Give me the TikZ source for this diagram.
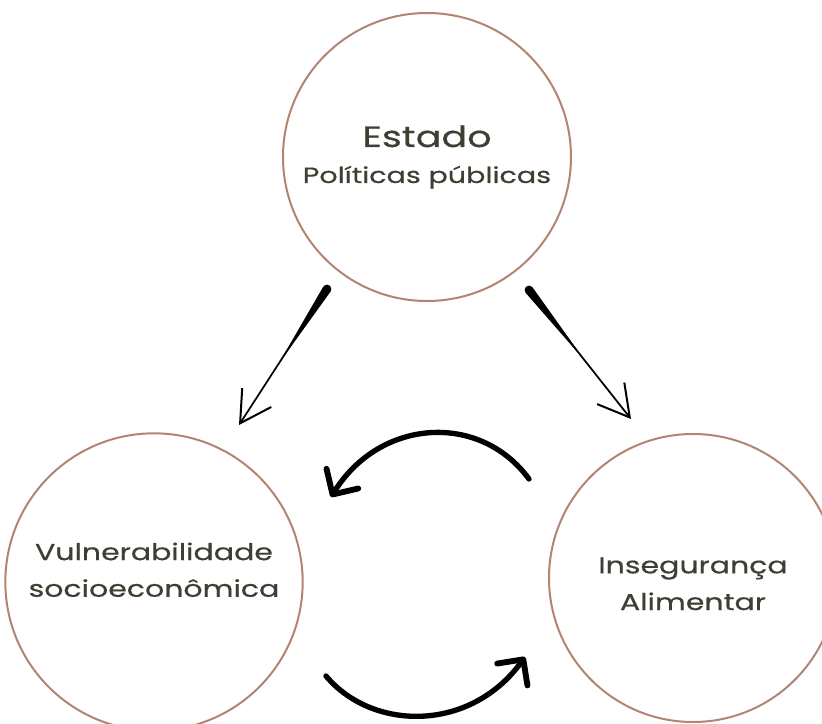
\documentclass[tikz,border=0pt]{standalone}
\usepackage{fontspec}
\setmainfont{Poppins}[FakeStretch=1.3,FakeBold=0.45]
\usepackage{xcolor}
\usetikzlibrary{arrows.meta,calc}
\definecolor{rosebrown}{RGB}{178,132,114}
\definecolor{olivetext}{RGB}{60,64,51}
\tikzset{
  bubble/.style={circle,draw=rosebrown,line width=1.5pt,text=olivetext,align=center,
    font=\fontsize{16.5}{27}\selectfont},
  lowbubble/.style={bubble,font=\fontsize{17.3}{27.5}\selectfont},
  thinarrow/.style={line width=1.3pt,-{Straight Barb[length=23pt,width=26pt,line width=1.5pt]}},
  thickarrow/.style={line width=4pt,line cap=round,
    -{Straight Barb[length=14pt,width=28pt,line width=4.4pt,round]}}
}
\begin{document}
\begin{tikzpicture}[x=0.75pt,y=-0.75pt]
\useasboundingbox (0,0) rectangle (822,724);
\node[bubble,minimum size=216pt] (estado) at (427,157)
  {{\fontsize{22}{27}\selectfont Estado}\\Políticas públicas};
\node[lowbubble,minimum size=223pt] (vuln) at (154,582)
  {Vulnerabilidade\\socioeconômica\\[-9pt]\mbox{}};
\node[lowbubble,minimum size=216pt] (inseg) at (693,578)
  {Insegurança\\Alimentar\\[-36pt]\mbox{}};

\coordinate (s1) at (327,289);
\coordinate (e1) at (239,425);
\coordinate (s2) at (529,290);
\coordinate (e2) at (631,419);
\coordinate (m1) at ($(s1)!0.55!(e1)$);
\coordinate (m2) at ($(s2)!0.55!(e2)$);
\fill (s1) circle (3.3pt);
\fill ($(s1)!3.3pt!90:(e1)$) -- (m1) -- ($(s1)!3.3pt!-90:(e1)$) -- cycle;
\draw[thinarrow] (s1) -- (e1);
\fill (s2) circle (3.3pt);
\fill ($(s2)!3.3pt!90:(e2)$) -- (m2) -- ($(s2)!3.3pt!-90:(e2)$) -- cycle;
\draw[thinarrow] (s2) -- (e2);

\coordinate (a1) at (529,479);
\coordinate (b1) at (331,497);
\coordinate (a2) at (326,676);
\coordinate (b2) at (525,657);
\draw[thickarrow] (a1) .. controls (480,412) and (380,418) .. (b1);
\draw[thickarrow] (a2) .. controls (372,731) and (470,733) .. (b2);
\end{tikzpicture}
\end{document}
